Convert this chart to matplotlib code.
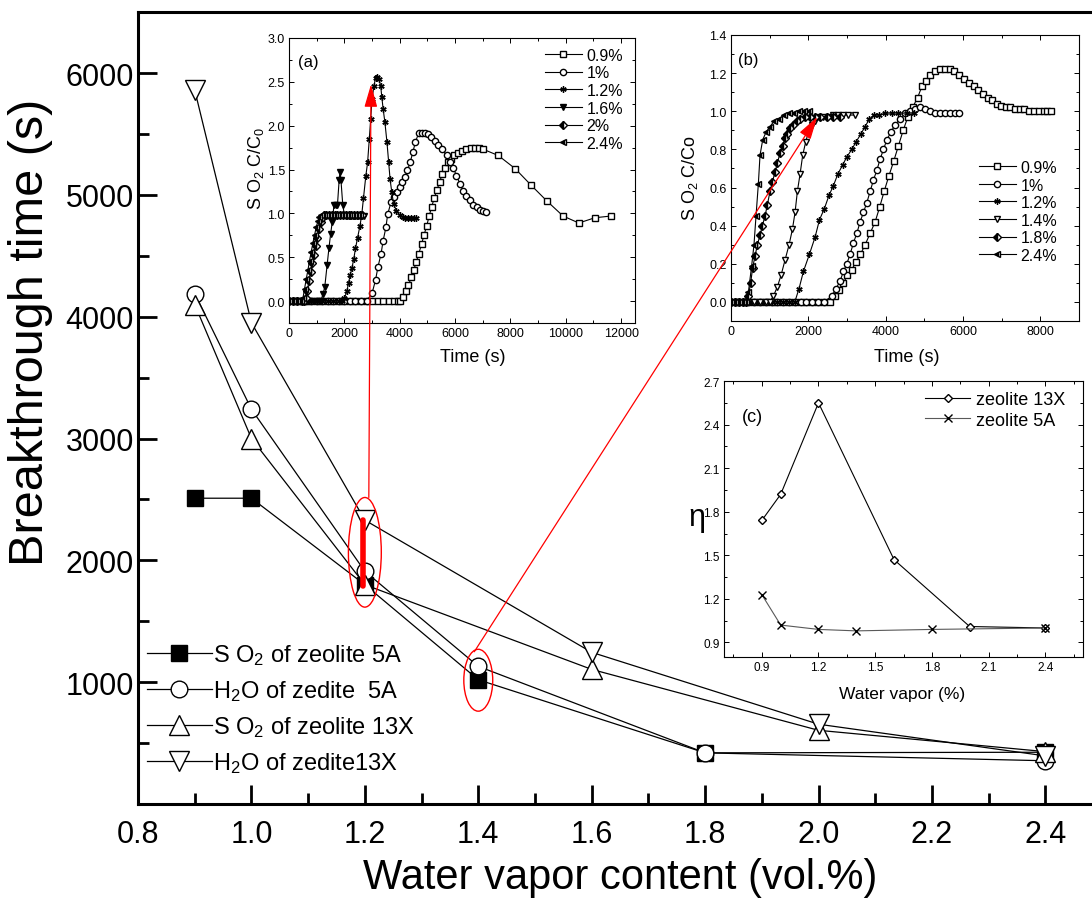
import matplotlib
matplotlib.use('Agg')
import matplotlib.pyplot as plt
from matplotlib.patches import Ellipse, ConnectionPatch
from matplotlib.ticker import MultipleLocator

plt.rcParams['font.family'] = ['Liberation Sans', 'DejaVu Sans']
plt.rcParams['mathtext.fontset'] = 'custom'
plt.rcParams['mathtext.rm'] = 'Liberation Sans'
plt.rcParams['mathtext.it'] = 'Liberation Sans:italic'
plt.rcParams['mathtext.bf'] = 'Liberation Sans:bold'

# ---- main plot: breakthrough time vs water vapor ----
vapor_5a = [0.9, 1.0, 1.2, 1.4, 1.8, 2.4]
so2_5a = [2510, 2510, 1800, 1020, 420, 425]
h2o_5a = [4190, 3240, 1910, 1130, 420, 355]
vapor_13x = [0.9, 1.0, 1.2, 1.6, 2.0, 2.4]
so2_13x = [4100, 3000, 1800, 1105, 605, 430]
h2o_13x = [5860, 3950, 2330, 1245, 655, 395]

# ---- inset (a): zeolite 13X breakthrough curves ----
a09_base = [0, 200, 400, 600, 800, 1000, 1200, 1400, 1600, 1800, 2000, 2200,
            2400, 2600, 2800, 3000, 3200, 3400, 3600, 3800]
a09_t = [3920, 4000, 4125, 4225, 4313, 4413, 4500, 4600, 4688, 4788, 4875, 4975,
         5063, 5150, 5250, 5350, 5440, 5540, 5650, 5750, 5850, 5950, 6090, 6240,
         6410, 6570, 6730, 6870, 7020, 7560, 8170, 8750, 9320, 9900, 10470, 11050, 11640]
a09_v = [0.0, 0.0, 0.05, 0.11, 0.18, 0.27, 0.35, 0.45, 0.54, 0.65, 0.75, 0.86,
         0.97, 1.07, 1.18, 1.27, 1.36, 1.45, 1.52, 1.58, 1.62, 1.66, 1.69, 1.71,
         1.73, 1.74, 1.74, 1.74, 1.73, 1.66, 1.51, 1.32, 1.14, 0.97, 0.89, 0.95, 0.97]

a10_base = [0, 200, 400, 600, 800, 1000, 1200, 1400, 1600, 1800, 2000, 2200,
            2400, 2600, 2800]
a10_t = [3000, 3125, 3213, 3325, 3400, 3500, 3563, 3688, 3788, 3900, 4000, 4088,
         4188, 4275, 4375, 4475, 4563, 4688, 4813, 4900, 5020, 5140, 5260, 5385,
         5530, 5690, 5810, 5930, 6050, 6170, 6290, 6410, 6530, 6655, 6775, 6900,
         7020, 7115]
a10_v = [0.09, 0.24, 0.39, 0.54, 0.69, 0.84, 0.99, 1.13, 1.19, 1.24, 1.3, 1.36,
         1.41, 1.49, 1.58, 1.7, 1.81, 1.92, 1.92, 1.92, 1.91, 1.87, 1.83, 1.78,
         1.73, 1.66, 1.59, 1.52, 1.43, 1.34, 1.26, 1.2, 1.15, 1.1, 1.07, 1.04,
         1.03, 1.01]

a12_base = [0, 200, 400, 600, 800, 1000, 1200, 1400, 1600, 1800]
a12_t = [1900, 2000, 2088, 2150, 2213, 2275, 2338, 2400, 2475, 2563, 2625, 2688,
         2775, 2838, 2900, 2950, 3000, 3063, 3125, 3188, 3250, 3313, 3350, 3400,
         3463, 3538, 3600, 3650, 3713, 3775, 3875, 4000, 4100, 4200, 4300, 4400,
         4500, 4600]
a12_v = [0.0, 0.03, 0.11, 0.21, 0.3, 0.38, 0.48, 0.6, 0.72, 0.86, 0.98, 1.17,
         1.43, 1.58, 1.85, 2.08, 2.3, 2.45, 2.54, 2.56, 2.53, 2.45, 2.33, 2.19,
         2.04, 1.81, 1.58, 1.39, 1.24, 1.11, 1.03, 0.98, 0.96, 0.95, 0.95, 0.95,
         0.95, 0.95]

a16_base = [0, 200, 400, 600, 800, 1000, 1150]
a16_t = [1225, 1290, 1375, 1440, 1500, 1560, 1625, 1690, 1750, 1810, 1840, 1875,
         1940, 2000, 2100, 2200, 2300, 2400, 2500, 2600, 2700]
a16_v = [0.08, 0.16, 0.41, 0.6, 0.76, 0.9, 1.1, 1.1, 1.1, 1.38, 1.47, 1.38,
         1.1, 0.98, 0.97, 0.97, 0.97, 0.97, 0.97, 0.97, 0.97]

a20_base = [0, 150, 300, 450, 550]
a20_t = [600, 660, 720, 780, 840, 900, 960, 1020, 1080, 1140, 1200, 1260,
         1350, 1450, 1550, 1650, 1750, 1850, 1950, 2050, 2150, 2250, 2350, 2450,
         2550, 2650]
a20_v = [0.03, 0.12, 0.23, 0.33, 0.43, 0.53, 0.63, 0.72, 0.82, 0.9, 0.95, 0.98,
         0.98, 0.98, 0.98, 0.98, 0.98, 0.98, 0.98, 0.98, 0.98, 0.98, 0.98, 0.98,
         0.98, 0.98]

a24_base = [0, 150, 300, 420]
a24_t = [500, 560, 620, 680, 740, 800, 860, 920, 980, 1040, 1100, 1160,
         1250, 1350, 1450, 1550, 1650, 1750, 1850, 1950, 2050, 2150, 2250, 2350,
         2450, 2550]
a24_v = [0.03, 0.14, 0.25, 0.35, 0.46, 0.56, 0.66, 0.75, 0.84, 0.91, 0.96, 0.98,
         0.98, 0.98, 0.98, 0.98, 0.98, 0.98, 0.98, 0.98, 0.98, 0.98, 0.98, 0.98,
         0.98, 0.98]

# ---- inset (b): zeolite 5A breakthrough curves ----
b09_base = [0, 150, 300, 450, 600, 750, 900, 1050, 1200, 1350, 1500, 1650,
            1800, 1950, 2100, 2250, 2400, 2550]
b09_t = [2690, 2805, 2908, 3012, 3124, 3236, 3348, 3469, 3599, 3728, 3849, 3961,
         4082, 4211, 4332, 4453, 4574, 4695, 4824, 4936, 5049, 5152, 5282, 5411,
         5540, 5670, 5773, 5894, 6015, 6145, 6274, 6386, 6507, 6636, 6749, 6878,
         6982, 7111, 7223, 7353, 7465, 7586, 7698, 7827, 7957, 8086, 8180, 8276]
b09_v = [0.03, 0.06, 0.1, 0.14, 0.17, 0.21, 0.25, 0.3, 0.36, 0.42, 0.5, 0.58,
         0.66, 0.74, 0.82, 0.9, 0.97, 1.02, 1.07, 1.13, 1.16, 1.19, 1.21, 1.22,
         1.22, 1.22, 1.21, 1.19, 1.17, 1.15, 1.13, 1.11, 1.09, 1.07, 1.06, 1.04,
         1.03, 1.02, 1.02, 1.01, 1.01, 1.01, 1.0, 1.0, 1.0, 1.0, 1.0, 1.0]

b10_base = [0, 150, 300, 450, 600, 750, 900, 1050, 1200, 1350, 1500, 1650,
            1800, 1950, 2100, 2250, 2400]
b10_t = [2606, 2718, 2822, 2908, 2995, 3081, 3167, 3254, 3340, 3426, 3512, 3599,
         3685, 3771, 3858, 3944, 4030, 4134, 4246, 4375, 4505, 4634, 4764, 4893,
         5023, 5152, 5282, 5411, 5540, 5670, 5799, 5903]
b10_v = [0.03, 0.07, 0.11, 0.16, 0.2, 0.25, 0.31, 0.36, 0.42, 0.47, 0.52, 0.58,
         0.64, 0.69, 0.75, 0.8, 0.85, 0.89, 0.93, 0.96, 0.99, 1.0, 1.01, 1.02,
         1.01, 1.0, 0.99, 0.99, 0.99, 0.99, 0.99, 0.99]

b12_base = [0, 150, 300, 450, 600, 750, 900, 1050, 1200, 1350, 1500, 1650]
b12_t = [1760, 1873, 2028, 2175, 2287, 2416, 2537, 2649, 2762, 2891, 2995, 3124,
         3236, 3357, 3469, 3581, 3702, 3832, 3987, 4160, 4332, 4548, 4720]
b12_v = [0.07, 0.16, 0.25, 0.34, 0.43, 0.49, 0.56, 0.61, 0.67, 0.72, 0.76, 0.8,
         0.84, 0.88, 0.92, 0.96, 0.98, 0.98, 0.99, 0.99, 0.99, 0.99, 0.99]

b14_base = [0, 150, 300, 450, 600, 750, 900, 1000]
b14_t = [1096, 1200, 1295, 1398, 1502, 1588, 1657, 1717, 1786, 1855, 1933, 2002,
         2088, 2175, 2287, 2390, 2520, 2649, 2779, 2908, 3038, 3210]
b14_v = [0.03, 0.08, 0.14, 0.22, 0.3, 0.38, 0.47, 0.58, 0.67, 0.77, 0.84, 0.89,
         0.93, 0.95, 0.97, 0.97, 0.97, 0.98, 0.98, 0.98, 0.98, 0.98]

b18_base = [0, 100, 200, 300, 400]
b18_t = [449, 509, 561, 621, 682, 751, 811, 880, 941, 1010, 1070, 1139,
         1200, 1269, 1338, 1398, 1458, 1528, 1614, 1700, 1786, 1916, 2045, 2175,
         2304, 2477, 2649, 2822]
b18_v = [0.03, 0.1, 0.18, 0.24, 0.3, 0.35, 0.4, 0.45, 0.51, 0.58, 0.63, 0.68,
         0.73, 0.78, 0.82, 0.86, 0.88, 0.91, 0.93, 0.95, 0.96, 0.97, 0.97, 0.97,
         0.97, 0.97, 0.97, 0.97]

b24_base = [0, 100, 200, 300, 400]
b24_t = [449, 535, 595, 647, 708, 751, 820, 906, 1010, 1122, 1243, 1372,
         1502, 1631, 1760, 1890, 2019]
b24_v = [0.05, 0.19, 0.3, 0.45, 0.62, 0.77, 0.85, 0.89, 0.92, 0.95, 0.96, 0.98,
         0.99, 0.99, 1.0, 1.0, 1.0]

# ---- inset (c): eta vs water vapor ----
c_vapor_13x = [0.9, 1.0, 1.2, 1.6, 2.0, 2.4]
eta_13x = [1.74, 1.92, 2.55, 1.47, 1.01, 1.0]
c_vapor_5a = [0.9, 1.0, 1.2, 1.4, 1.8, 2.4]
eta_5a = [1.23, 1.02, 0.99, 0.98, 0.99, 1.0]


def curve(base, t, v):
    return list(base) + list(t), [0.0] * len(base) + list(v)


fig = plt.figure(figsize=(10.92, 9.04), dpi=100)

ax = fig.add_axes([0.1264, 0.1095, 0.8828, 0.876])
ax.plot(vapor_5a, so2_5a, color='black', lw=0.9, marker='s', ms=11,
        mfc='black', mec='black', label='S O$_2$ of zeolite 5A', zorder=3)
ax.plot(vapor_5a, h2o_5a, color='black', lw=0.9, marker='o', ms=12,
        mfc='white', mec='black', label='H$_2$O of zedite  5A', zorder=3)
ax.plot(vapor_13x, so2_13x, color='black', lw=0.9, marker='^', ms=14,
        mfc='white', mec='black', label='S O$_2$ of zeolite 13X', zorder=3)
ax.plot(vapor_13x, h2o_13x, color='black', lw=0.9, marker='v', ms=14,
        mfc='white', mec='black', label='H$_2$O of zedite13X', zorder=3)

ax.set_xlim(0.8, 2.5)
ax.set_ylim(0, 6500)
ax.xaxis.set_major_locator(MultipleLocator(0.2))
ax.xaxis.set_minor_locator(MultipleLocator(0.1))
ax.yaxis.set_major_locator(MultipleLocator(1000))
ax.yaxis.set_minor_locator(MultipleLocator(500))
ax.set_yticks([1000, 2000, 3000, 4000, 5000, 6000])
ax.tick_params(which='both', direction='in', width=2)
ax.tick_params(which='major', length=14, labelsize=22)
ax.tick_params(which='minor', length=8)
ax.tick_params(axis='x', pad=11)
ax.tick_params(axis='y', pad=3)
for s in ax.spines.values():
    s.set_linewidth(2.2)
ax.spines['right'].set_visible(False)

fig.text(620 / 1092, 1 - 878 / 904, 'Water vapor content (vol.%)', fontsize=30,
         ha='center', va='center')
fig.text(31 / 1092, 1 - 332 / 904, 'Breakthrough time (s)', fontsize=35,
         rotation=90, ha='center', va='center')

ax.legend(loc='upper left', bbox_to_anchor=(0.0093, 0.204), frameon=False,
          fontsize=17, handlelength=2.75, handletextpad=0.05, labelspacing=0.47,
          borderpad=0, borderaxespad=0, numpoints=1)

# red marks on the main plot
ax.add_patch(Ellipse((1.2, 2066), 0.058, 900, fc='none', ec='red', lw=1, zorder=6))
ax.add_patch(Ellipse((1.4, 1016), 0.051, 508, fc='none', ec='red', lw=1, zorder=6))
ax.plot([1.197, 1.197], [1790, 2330], color='red', lw=4, solid_capstyle='round', zorder=7)


def style_inset(a):
    a.set_facecolor('white')
    a.tick_params(which='both', direction='in', top=True, right=True, width=0.7,
                  labelsize=9, pad=3)
    a.tick_params(which='major', length=3.5)
    a.tick_params(which='minor', length=2)
    for s in a.spines.values():
        s.set_linewidth(0.8)


mk = dict(ms=4.5, lw=0.8, color='black', mec='black')

# inset (a)
axa = fig.add_axes([0.2647, 0.6416, 0.3168, 0.3153])
axa.plot(*curve(a09_base, a09_t, a09_v), marker='s', mfc='white', label='0.9%', **mk)
axa.plot(*curve(a10_base, a10_t, a10_v), marker='o', mfc='white', label='1%', **mk)
axa.plot(*curve(a12_base, a12_t, a12_v), marker=(6, 2, 0), label='1.2%', **mk)
axa.plot(*curve(a16_base, a16_t, a16_v), marker='v', mfc='black', label='1.6%', **mk)
axa.plot(*curve(a20_base, a20_t, a20_v), marker='D', fillstyle='left', mfc='black',
         markerfacecoloralt='white', label='2%', **mk)
axa.plot(*curve(a24_base, a24_t, a24_v), marker='<', fillstyle='left', mfc='black',
         markerfacecoloralt='white', label='2.4%', **mk)
axa.set_xlim(0, 12500)
axa.set_ylim(-0.25, 3.0)
axa.xaxis.set_major_locator(MultipleLocator(2000))
axa.xaxis.set_minor_locator(MultipleLocator(1000))
axa.yaxis.set_major_locator(MultipleLocator(0.5))
axa.yaxis.set_minor_locator(MultipleLocator(0.25))
style_inset(axa)
axa.legend(loc='upper left', bbox_to_anchor=(0.74, 0.965), frameon=False,
           fontsize=11.5, handlelength=2.3, handletextpad=0.3, labelspacing=0.16,
           borderpad=0, borderaxespad=0, numpoints=1)
axa.text(0.026, 0.919, '(a)', transform=axa.transAxes, fontsize=12, va='center')
fig.text(256 / 1092, 1 - 168 / 904, 'S O$_2$ C/C$_0$', fontsize=13, rotation=90,
         ha='center', va='center')
fig.text(473 / 1092, 1 - 358 / 904, 'Time (s)', fontsize=13, ha='center', va='center')

# inset (b)
axb = fig.add_axes([0.6694, 0.6438, 0.3187, 0.3164])
axb.plot(*curve(b09_base, b09_t, b09_v), marker='s', mfc='white', label='0.9%', **mk)
axb.plot(*curve(b10_base, b10_t, b10_v), marker='o', mfc='white', label='1%', **mk)
axb.plot(*curve(b12_base, b12_t, b12_v), marker=(6, 2, 0), label='1.2%', **mk)
axb.plot(*curve(b14_base, b14_t, b14_v), marker='v', mfc='white', label='1.4%', **mk)
axb.plot(*curve(b18_base, b18_t, b18_v), marker='D', fillstyle='left', mfc='black',
         markerfacecoloralt='white', label='1.8%', **mk)
axb.plot(*curve(b24_base, b24_t, b24_v), marker='<', fillstyle='left', mfc='black',
         markerfacecoloralt='white', label='2.4%', **mk)
axb.set_xlim(0, 9000)
axb.set_ylim(-0.1, 1.4)
axb.xaxis.set_major_locator(MultipleLocator(2000))
axb.xaxis.set_minor_locator(MultipleLocator(1000))
axb.yaxis.set_major_locator(MultipleLocator(0.2))
axb.yaxis.set_minor_locator(MultipleLocator(0.1))
style_inset(axb)
axb.legend(loc='upper left', bbox_to_anchor=(0.713, 0.563), frameon=False,
           fontsize=11.5, handlelength=2.3, handletextpad=0.3, labelspacing=0.16,
           borderpad=0, borderaxespad=0, numpoints=1)
axb.text(0.02, 0.916, '(b)', transform=axb.transAxes, fontsize=12, va='center')
fig.text(690 / 1092, 1 - 178 / 904, 'S O$_2$ C/Co', fontsize=13, rotation=90,
         ha='center', va='center')
fig.text(907 / 1092, 1 - 358 / 904, 'Time (s)', fontsize=13, ha='center', va='center')

# inset (c)
axc = fig.add_axes([0.663, 0.2721, 0.3288, 0.3053])
axc.plot(c_vapor_13x, eta_13x, marker='D', ms=4.5, mfc='white', mec='black',
         color='black', lw=0.8, label='zeolite 13X')
axc.plot(c_vapor_5a, eta_5a, marker='x', ms=6, mec='black', color='0.35',
         lw=0.8, label='zeolite 5A')
axc.set_xlim(0.7, 2.6)
axc.set_ylim(0.8, 2.7)
axc.set_xticks([0.9, 1.2, 1.5, 1.8, 2.1, 2.4])
axc.set_yticks([0.9, 1.2, 1.5, 1.8, 2.1, 2.4, 2.7])
axc.xaxis.set_minor_locator(MultipleLocator(0.15))
axc.yaxis.set_minor_locator(MultipleLocator(0.15))
style_inset(axc)
axc.tick_params(labelsize=8.5)
axc.legend(loc='upper left', bbox_to_anchor=(0.56, 0.964), frameon=False,
           fontsize=13, handlelength=2.5, handletextpad=0.3, labelspacing=0.2,
           borderpad=0, borderaxespad=0, numpoints=1)
axc.text(0.05, 0.873, '(c)', transform=axc.transAxes, fontsize=13, va='center')
fig.text(697 / 1092, 1 - 518 / 904, 'η', fontsize=22, ha='center', va='center')
fig.text(902 / 1092, 1 - 695 / 904, 'Water vapor (%)', fontsize=12.5,
         ha='center', va='center')

# red arrows from the circled points to the insets
arrow_style = '-|>,head_length=0.7,head_width=0.2'
fig.add_artist(ConnectionPatch(xyA=(1.207, 2516), coordsA=ax.transData,
                               xyB=(2960, 2.47), coordsB=axa.transData,
                               arrowstyle=arrow_style, mutation_scale=20,
                               color='red', lw=0.9))
fig.add_artist(ConnectionPatch(xyA=(1.393, 1250), coordsA=ax.transData,
                               xyB=(2230, 0.97), coordsB=axb.transData,
                               arrowstyle=arrow_style, mutation_scale=20,
                               color='red', lw=0.9))

fig.savefig('out.png', dpi=100)
